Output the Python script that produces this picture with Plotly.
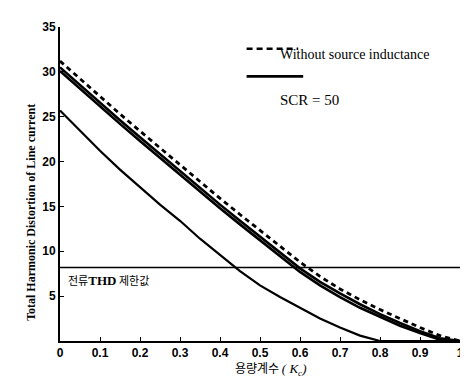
import plotly.graph_objects as go

kc = [0, 0.05, 0.1, 0.15, 0.2, 0.25, 0.3, 0.35, 0.4, 0.45, 0.5,
      0.55, 0.6, 0.65, 0.7, 0.75, 0.8, 0.85, 0.9, 0.95, 1.0]
without_src = [31.2, 29.2, 27.2, 25.3, 23.4, 21.5, 19.6, 17.7, 15.9, 14.1, 12.3,
               10.5, 8.8, 7.2, 5.8, 4.6, 3.5, 2.5, 1.5, 0.6, 0]
scr_a = [30.5, 28.5, 26.5, 24.6, 22.7, 20.8, 18.9, 17.0, 15.2, 13.4, 11.6,
         9.8, 8.1, 6.6, 5.3, 4.1, 3.0, 2.0, 1.1, 0.3, 0]
scr_b = [30.1, 28.1, 26.1, 24.2, 22.3, 20.4, 18.5, 16.6, 14.8, 13.0, 11.2,
         9.4, 7.7, 6.2, 4.9, 3.7, 2.7, 1.7, 0.9, 0.15, 0]
scr_50 = [25.7, 23.4, 21.2, 19.1, 17.1, 15.2, 13.4, 11.4, 9.6, 7.8, 6.2,
          4.9, 3.7, 2.5, 1.5, 0.6, 0, 0, 0, 0, 0]
thd_limit = 8.2
limit_x = [0, 1]

x_ticks = [0, 0.1, 0.2, 0.3, 0.4, 0.5, 0.6, 0.7, 0.8, 0.9, 1]
x_ticktext = ["0", "0.1", "0.2", "0.3", "0.4", "0.5", "0.6", "0.7", "0.8", "0.9", "1"]
y_ticks = [5, 10, 15, 20, 25, 30, 35]

fig = go.Figure()
fig.add_trace(go.Scatter(x=limit_x, y=[thd_limit, thd_limit], mode="lines",
                         line=dict(color="black", width=1.6)))
fig.add_trace(go.Scatter(x=kc, y=scr_50, mode="lines",
                         line=dict(color="black", width=2.2)))
fig.add_trace(go.Scatter(x=kc, y=scr_b, mode="lines",
                         line=dict(color="black", width=2.6)))
fig.add_trace(go.Scatter(x=kc, y=scr_a, mode="lines",
                         line=dict(color="black", width=2.6)))
fig.add_trace(go.Scatter(x=kc, y=without_src, mode="lines",
                         line=dict(color="black", width=2.8, dash="5px,4px")))

W, H = 468, 378
L, R, T, B = 52, 13, 15, 45
pw, ph = W - L - R, H - T - B


def px(xp):
    return (xp - L) / pw


def py(yp):
    return (H - B - yp) / ph


serif = "Liberation Serif, Times New Roman, serif"
fig.add_shape(type="line", xref="paper", yref="paper",
              x0=px(240), x1=px(292), y0=py(37), y1=py(37),
              line=dict(color="black", width=2.6, dash="6px,4px"))
fig.add_shape(type="line", xref="paper", yref="paper",
              x0=px(240), x1=px(297), y0=py(65), y1=py(65),
              line=dict(color="black", width=2.6))
fig.add_annotation(xref="paper", yref="paper", x=px(272), y=py(43),
                   xanchor="left", yanchor="middle", showarrow=False,
                   text="Without source inductance",
                   font=dict(family=serif, size=14, color="black"))
fig.add_annotation(xref="paper", yref="paper", x=px(272), y=py(89),
                   xanchor="left", yanchor="middle", showarrow=False,
                   text="SCR = 50",
                   font=dict(family=serif, size=15, color="black"))
fig.add_annotation(xref="paper", yref="paper", x=px(58), y=py(271),
                   xanchor="left", yanchor="middle", showarrow=False,
                   text="전류<b><span style='font-family:Liberation Serif;font-size:13px'>THD</span></b> 제한값",
                   font=dict(family="Noto Sans CJK KR", size=11, color="black"))
fig.add_annotation(xref="paper", yref="paper", x=px(22), y=py(203),
                   xanchor="center", yanchor="middle", showarrow=False,
                   textangle=-90,
                   text="<b>Total Harmonic Distortion of Line current</b>",
                   font=dict(family=serif, size=12, color="black"))
fig.add_annotation(xref="paper", yref="paper", x=px(265), y=py(361),
                   xanchor="center", yanchor="middle", showarrow=False,
                   text="용량계수 <span style='font-family:Liberation Serif;font-size:13px'><i>( K<sub>c</sub>)</i></span>",
                   font=dict(family="Noto Sans CJK KR", size=12, color="black"))

fig.update_layout(
    width=W, height=H,
    margin=dict(l=L, r=R, t=T, b=B),
    paper_bgcolor="white", plot_bgcolor="white",
    showlegend=False,
    font=dict(family="Liberation Sans, Arial, sans-serif", size=12, color="black"),
)
fig.update_xaxes(range=[0, 1], tickvals=x_ticks, ticktext=x_ticktext,
                 showgrid=False, zeroline=False, showline=True,
                 linecolor="black", linewidth=2, ticks="inside", ticklen=4,
                 tickcolor="black",
                 tickfont=dict(size=12, weight="bold"))
fig.update_yaxes(range=[0, 35], tickvals=y_ticks,
                 showgrid=False, zeroline=False, showline=True,
                 linecolor="black", linewidth=2, ticks="inside", ticklen=4,
                 tickcolor="black",
                 tickfont=dict(size=12, weight="bold"))

fig.write_html("out.html")
